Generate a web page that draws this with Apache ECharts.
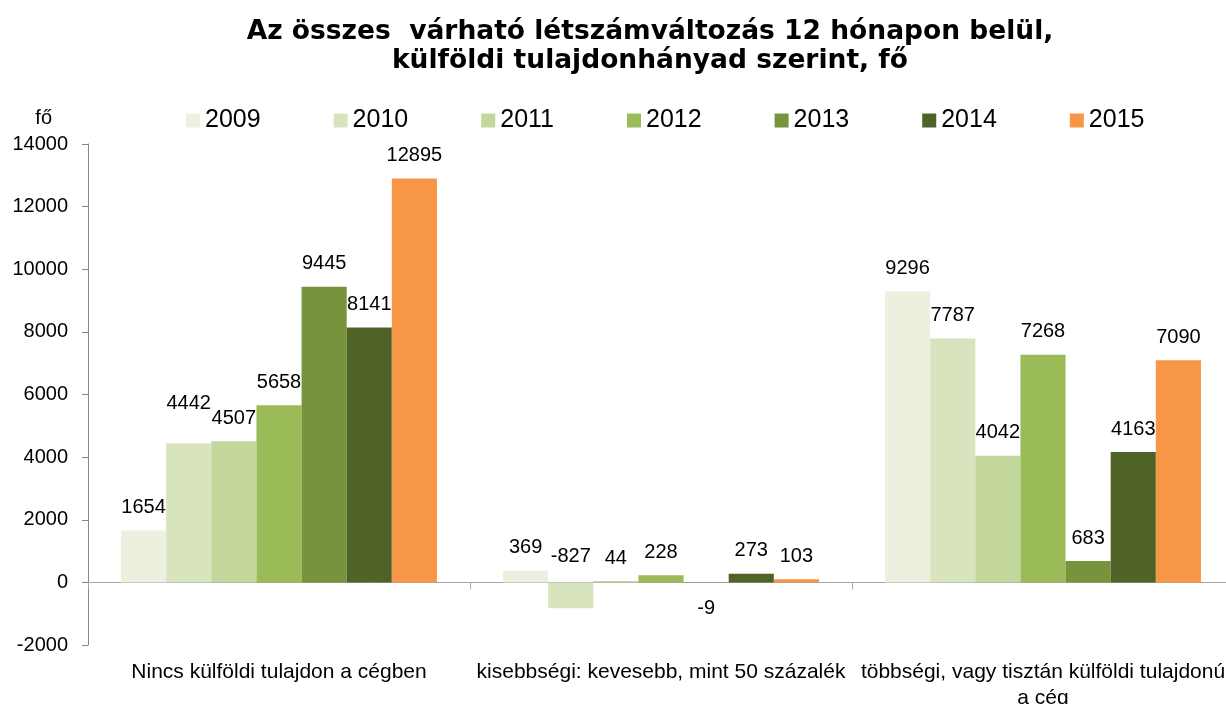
<!DOCTYPE html>
<html>
<head>
<meta charset="utf-8">
<title>Létszámváltozás</title>
<script src="https://cdn.jsdelivr.net/npm/echarts@6/dist/echarts.min.js"></script>
<style>
  html, body { margin: 0; padding: 0; background: #fff; }
  #chart { width: 1226px; height: 704px; }
</style>
</head>
<body>
<div id="chart"></div>
<script>
// categories (x axis)
const categories = [
  'Nincs külföldi tulajdon a cégben',
  'kisebbségi: kevesebb, mint 50 százalék',
  'többségi, vagy tisztán külföldi tulajdonú\na cég',
];
const years = ['2009', '2010', '2011', '2012', '2013', '2014', '2015'];

// values per year, in category order
const v2009 = [1654, 369, 9296];
const v2010 = [4442, -827, 7787];
const v2011 = [4507, 44, 4042];
const v2012 = [5658, 228, 7268];
const v2013 = [9445, -9, 683];
const v2014 = [8141, 273, 4163];
const v2015 = [12895, 103, 7090];
const values = [v2009, v2010, v2011, v2012, v2013, v2014, v2015];

// y axis ticks
const yMin = -2000;
const yMax = 14000;
const yStep = 2000;

const colors = ['#EBF1DE', '#D7E4BD', '#C3D69B', '#9BBB59', '#77933C', '#4F6228', '#F79646'];
const font = '"Liberation Sans", Arial, sans-serif';

// label placement tweaks (year index - category index)
const labelTweaks = {
  '1-0': { offset: [0, -17] },
  '1-1': { position: 'top', offset: [0, -3] },
  '4-1': { position: 'bottom', offset: [0, 3] },
};

function makeSeries() {
  return years.map((year, i) => ({
    name: year,
    type: 'bar',
    barGap: '0%',
    barCategoryGap: '17.3%',
    itemStyle: { color: colors[i] },
    label: {
      show: true,
      position: 'top',
      distance: 13,
      fontSize: 20,
      fontFamily: font,
      color: '#000',
    },
    data: values[i].map((v, j) => {
      const tweak = labelTweaks[i + '-' + j];
      return tweak ? { value: v, label: tweak } : v;
    }),
  }));
}

function makeOptions() {
  return {
    animation: false,
    color: colors,
    title: {
      text: 'Az összes  várható létszámváltozás 12 hónapon belül,\nkülföldi tulajdonhányad szerint, fő',
      left: 650,
      top: 18,
      padding: 0,
      textAlign: 'center',
      textStyle: {
        fontFamily: '"DejaVu Sans", sans-serif',
        fontWeight: 'bold',
        fontSize: 26.5,
        lineHeight: 29,
        color: '#000',
      },
    },
    legend: {
      data: years,
      left: 186,
      top: 108,
      padding: 0,
      icon: 'rect',
      itemWidth: 14,
      itemHeight: 14,
      itemGap: 73,
      textStyle: { fontSize: 25, fontFamily: font, color: '#000' },
    },
    grid: {
      left: 88,
      top: 144,
      width: 1146,
      height: 501,
      containLabel: false,
      outerBoundsMode: 'none',
    },
    xAxis: [
      {
        // labels at the bottom of the plot
        type: 'category',
        data: categories,
        position: 'bottom',
        axisLine: { show: false, onZero: false },
        axisTick: { show: false },
        axisLabel: {
          interval: 0,
          margin: 14,
          fontSize: 21,
          lineHeight: 26,
          fontFamily: font,
          color: '#000',
        },
      },
      {
        // zero line with category ticks
        type: 'category',
        data: categories,
        position: 'bottom',
        axisLine: { show: true, onZero: true, lineStyle: { color: '#A6A6A6', width: 1 } },
        axisTick: { show: true, length: 7, lineStyle: { color: '#A6A6A6' } },
        axisLabel: { show: false },
      },
    ],
    yAxis: {
      type: 'value',
      min: yMin,
      max: yMax,
      interval: yStep,
      name: 'fő',
      nameLocation: 'end',
      nameGap: 26,
      nameTextStyle: {
        fontSize: 20,
        fontFamily: font,
        color: '#000',
        align: 'right',
        verticalAlign: 'middle',
        padding: [0, 36, 0, 0],
      },
      axisLine: { show: true, lineStyle: { color: '#868686' } },
      axisTick: { show: true, length: 6, lineStyle: { color: '#868686' } },
      splitLine: { show: false },
      axisLabel: {
        margin: 20,
        fontSize: 20,
        fontFamily: font,
        color: '#000',
        formatter: (v) => String(v),
      },
    },
    series: makeSeries(),
  };
}

const chart = echarts.init(document.getElementById('chart'));
chart.setOption(makeOptions());
</script>
</body>
</html>
